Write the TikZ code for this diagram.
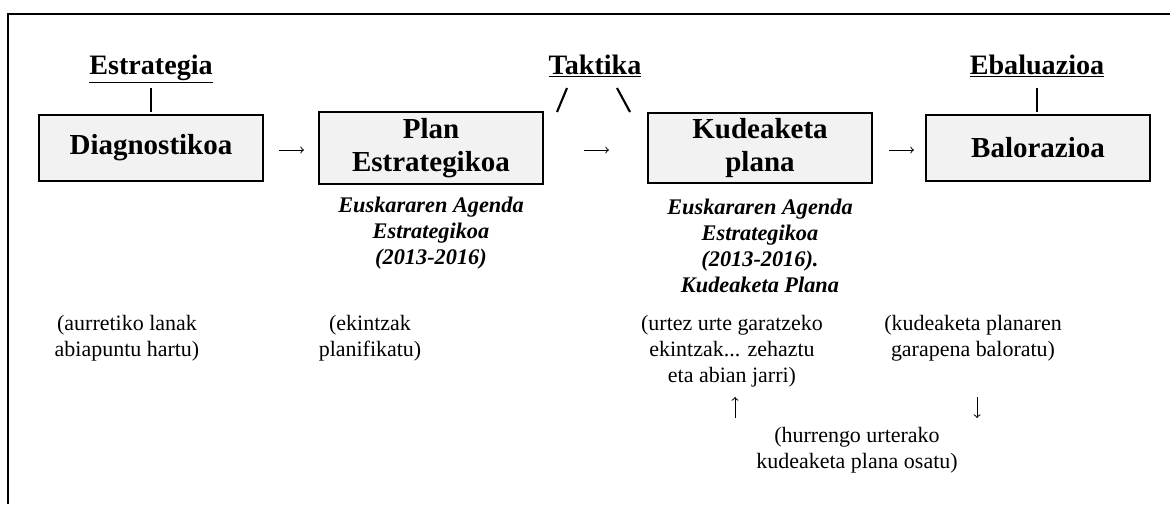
\documentclass[tikz,border=0pt]{standalone}
\usepackage{fontspec}
\setmainfont{Liberation Serif}
\definecolor{boxgray}{RGB}{242,242,242}

\begin{document}
\begin{tikzpicture}[x=0.02cm, y=-0.02cm,
		box/.style={draw, line width=1.1pt, fill=boxgray, minimum width=4.48cm, minimum height=1.32cm, align=center, font=\fontsize{16.5}{18.7}\selectfont\bfseries},
		head/.style={anchor=base, font=\fontsize{16}{18}\selectfont\bfseries},
		src/.style={align=center, font=\fontsize{12.7}{14.7}\selectfont\bfseries\itshape},
		note/.style={align=center, font=\fontsize{12.5}{14.7}\selectfont},
		bar/.style={line width=1.2pt},
		flow/.style={-to, line width=0.55pt}]
			\useasboundingbox (0,0) rectangle (1170,504);
			
			%Frame
			\draw[line width=1.1pt] (8,504) -- (8,14) -- (1170,14);
			
			%Boxes
			\node[box] (diag) at (151,148) {Diagnostikoa};
			\node[box] (plan) at (431,148) {Plan\\Estrategikoa};
			\node[box] (kude) at (760,148) {Kudeaketa\\plana};
			\node[box] (balo) at (1038,148) {Balorazioa};
			\draw[flow] (diag.east) ++(15,2) -- ++(25,0);
			\draw[flow] (plan.east) ++(40,2) -- ++(25,0);
			\draw[flow] (kude.east) ++(16,2) -- ++(25,0);
			
			%Headings
			\node[head] (estr) at (151,74) {\underline{Estrategia}};
			\node[head] (takt) at (595,74) {\underline{Taktika}};
			\node[head] (ebal) at (1037,74) {\underline{Ebaluazioa}};
			\draw[bar] (estr.base) ++(0,14) -- ++(0,24);
			\draw[bar] (takt.base) ++(-38,38) -- ++(10,-24);
			\draw[bar] (takt.base) ++(22,14) -- ++(13,24);
			\draw[bar] (ebal.base) ++(0,14) -- ++(0,24);
			
			%Documents
			\node[src] (plandoc) at (431,233) {Euskararen Agenda\\Estrategikoa\\(2013-2016)};
			\node[src] (kudedoc) at (760,246) {Euskararen Agenda\\Estrategikoa\\(2013-2016).\\Kudeaketa Plana};
			
			%Notes
			\node[note] (diagnote) at (127,338) {(aurretiko lanak\\abiapuntu hartu)};
			\node[note] (plannote) at (370,338) {(ekintzak\\planifikatu)};
			\node[note] (kudenote) at (732,351) {(urtez urte garatzeko\\ekintzak... zehaztu\\eta abian jarri)};
			\node[note] (balonote) at (973,338) {(kudeaketa planaren\\garapena baloratu)};
			\node[note] (next) at (857,450) {(hurrengo urterako\\kudeaketa plana osatu)};
			
			%Cycle
			\coordinate (upfoot) at (735,418);
			\coordinate (uphead) at (735,397);
			\coordinate (downtop) at (977,397);
			\coordinate (downend) at (977,418);
			\draw[flow] (upfoot) -- (uphead);
			\draw[flow] (downtop) -- (downend);
\end{tikzpicture}
\end{document}
